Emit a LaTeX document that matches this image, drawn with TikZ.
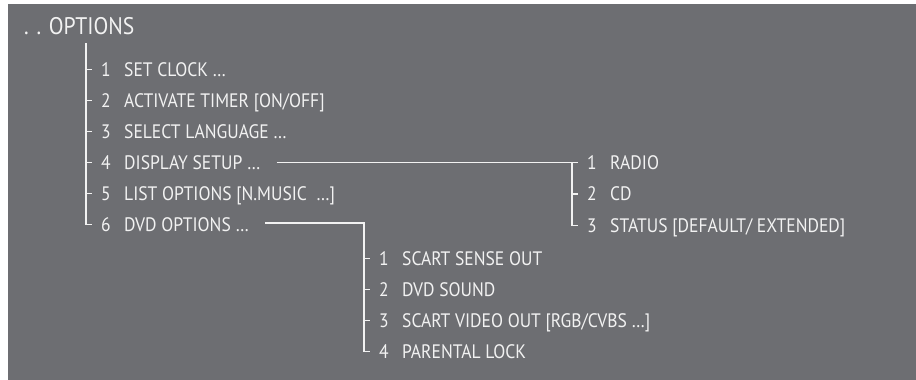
\documentclass[tikz,border=0pt]{standalone}
\usepackage{fontspec}
\setmainfont{PT Sans}[FakeStretch=0.9]
\usetikzlibrary{positioning}
\definecolor{panel}{RGB}{109,110,114}
\definecolor{ink}{RGB}{242,242,242}
\newcommand{\entry}[2]{\makebox[23pt][l]{#1}#2}

\begin{document}
\begin{tikzpicture}[x=1pt,y=-1pt,
    item/.style={anchor=west,inner xsep=9pt,inner ysep=0pt,text height=13pt,text depth=0pt,text=ink,font=\fontsize{19.5}{21}\selectfont},
    link/.style={draw=ink,line width=1.2pt},
    node distance=31pt
  ]
    \useasboundingbox (0,0) rectangle (916,380);
    \fill[white] (0,0) rectangle (916,380);
    \fill[panel] (8,4) rectangle (916,380);
    \node[anchor=west,inner sep=0pt,text=ink,font=\fontsize{24}{27}\selectfont] (title) at (24,26) {. . OPTIONS};
    % main menu
    \coordinate (root) at (86,43);
    \node[item] (s1) at (92,69.5) {\entry{1}{SET CLOCK …}};
    \node[below=of s1.west,item] (s2) {\entry{2}{ACTIVATE TIMER [ON/OFF]}};
    \node[below=of s2.west,item] (s3) {\entry{3}{SELECT LANGUAGE …}};
    \node[below=of s3.west,item] (s4) {\entry{4}{DISPLAY SETUP …}};
    \node[below=of s4.west,item] (s5) {\entry{5}{LIST OPTIONS [N.MUSIC\ \ …]}};
    \node[below=of s5.west,item] (s6) {\entry{6}{DVD OPTIONS …}};
    \draw[link] (root) |- (s6.west);
    \foreach \i in {1,...,5}
      \draw[link] (s\i.west -| root) -- (s\i.west);
    % display setup
    \node[item] (r1) at (578,162.5) {\entry{1}{RADIO}};
    \node[below=31.5pt of r1.west,item] (r2) {\entry{2}{CD}};
    \node[below=31.5pt of r2.west,item] (r3) {\entry{3}{STATUS [DEFAULT/ EXTENDED]}};
    \coordinate (dv) at (572,162.5);
    \draw[link] ([xshift=7pt]s4.east) -- (r1.west);
    \draw[link] (dv) |- (r3.west);
    \draw[link] (r2.west -| dv) -- (r2.west);
    % dvd options
    \node[item] (v1) at (370,258.5) {\entry{1}{SCART SENSE OUT}};
    \node[below=of v1.west,item] (v2) {\entry{2}{DVD SOUND}};
    \node[below=of v2.west,item] (v3) {\entry{3}{SCART VIDEO OUT [RGB/CVBS …]}};
    \node[below=of v3.west,item] (v4) {\entry{4}{PARENTAL LOCK}};
    \coordinate (vv) at (364,223);
    \draw[link] ([xshift=7pt]s6.east |- vv) -- (vv) |- (v4.west);
    \foreach \i in {1,2,3}
      \draw[link] (v\i.west -| vv) -- (v\i.west);
  \end{tikzpicture}
\end{document}
